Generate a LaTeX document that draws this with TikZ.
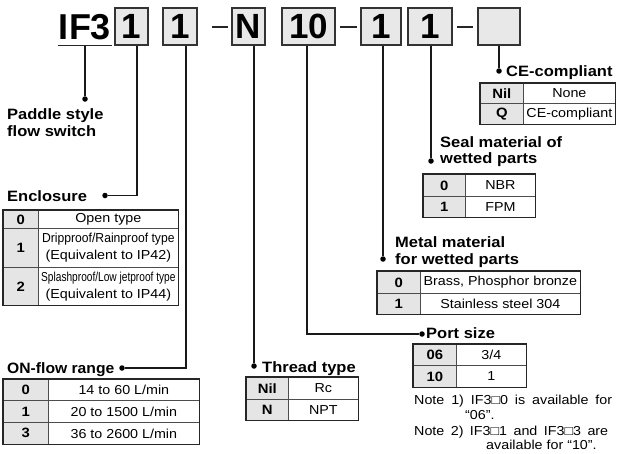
\documentclass[tikz,border=0pt]{standalone}
\usepackage{fontspec}
\usepackage{graphicx}
\setmainfont{Liberation Sans}[FakeStretch=1.1]
\newfontfamily\hdrfont{Liberation Sans}
\usetikzlibrary{calc}
\tikzset{
  hbox/.style={draw=black!80, line width=1.4pt, fill=black!9, minimum height=37pt, inner sep=0pt,
    font=\hdrfont\bfseries\fontsize{35}{35}\selectfont},
  lbl/.style={font=\bfseries\fontsize{15}{16.5}\selectfont, inner sep=0pt, align=left},
  conn/.style={line width=1.1pt, draw=black!90},
  dotc/.style={circle, fill=black, inner sep=0pt, minimum size=5.5pt},
  kcell/.style={draw=black!70, line width=0.7pt, fill=black!10, inner sep=0pt, anchor=north west,
    font=\bfseries\fontsize{13.5}{15}\selectfont},
  vcell/.style={draw=black!70, line width=0.7pt, inner sep=0pt, anchor=north west, align=center,
    font=\fontsize{13}{17}\selectfont},
  tabout/.style={draw=black!85, line width=1.1pt},
  notetxt/.style={inner sep=0pt, anchor=base west, font=\fontsize{13}{15}\selectfont},
  dashl/.style={line width=2.4pt, draw=black!85},
}
\begin{document}
\begin{tikzpicture}[x=1pt,y=-1pt]
\useasboundingbox (0,0) rectangle (617,453);

% ---------- header ----------
\node[inner sep=0pt, anchor=base, font=\hdrfont\bfseries\fontsize{36}{36}\selectfont] (if3) at (85,39) {IF3};
\draw[line width=1.4pt, draw=black!85] ([yshift=-6pt,xshift=-1pt]if3.south west) -- ([yshift=-6pt,xshift=1pt]if3.south east);
\node[hbox, minimum width=33pt] (b1) at (131.5,26.5) {1};
\node[hbox, minimum width=34pt] (b2) at (180,26.5) {1};
\node[hbox, minimum width=33pt] (bN) at (248.5,26.5) {N};
\node[hbox, minimum width=53pt] (b10) at (308.5,26.5) {10};
\node[hbox, minimum width=40pt] (b5) at (381,26.5) {1};
\node[hbox, minimum width=44pt] (b6) at (430,26.5) {1};
\node[hbox, minimum width=42pt] (b7) at (499,26.5) {};
\draw[dashl] (212,27) -- (228,27);
\draw[dashl] (340,27) -- (357,27);
\draw[dashl] (457,27) -- (473,27);

% ---------- labels and dots ----------
\node[lbl, anchor=base west] (lpad) at (7,136) {Paddle style\\flow switch};
\node[dotc] (d0) at (85,99) {};
\node[lbl, anchor=base west] (lenc) at (7,201.5) {Enclosure};
\node[dotc] (d1) at (105,195.5) {};
\node[lbl, anchor=base west] (lon) at (7,373.5) {\scalebox{0.95}[1]{ON-flow range}};
\node[dotc] (d2) at (122,368) {};
\node[lbl, anchor=base west] (lthr) at (262,372) {Thread type};
\node[dotc] (d3) at (254,366) {};
\node[lbl, anchor=base west] (lport) at (426,338.5) {Port size};
\node[dotc] (d4) at (422,334) {};
\node[lbl, anchor=base west] (lmet) at (395,264) {Metal material\\for wetted parts};
\node[dotc] (d5) at (383,259) {};
\node[lbl, anchor=base west] (lseal) at (440,163.5) {Seal material of\\wetted parts};
\node[dotc] (d6) at (431,161) {};
\node[lbl, anchor=base west] (lce) at (506,76.5) {CE-compliant};
\node[dotc] (d7) at (499,71) {};

% ---------- connectors ----------
\draw[conn] ([yshift=-6pt]if3.south) -- (d0);
\draw[conn] ([xshift=5.5pt]b1.south) |- (d1);
\draw[conn] ([xshift=6pt]b2.south) |- (d2);
\draw[conn] ([xshift=5.5pt]bN.south) -- (d3);
\draw[conn] ([xshift=-1.5pt]b10.south) |- (d4);
\draw[conn] ([xshift=2pt]b5.south) -- (d5);
\draw[conn] ([xshift=1pt]b6.south) -- (d6);
\draw[conn] (b7.south) -- (d7);

% ---------- Enclosure table ----------
\node[kcell, minimum width=35pt, minimum height=18pt] (e0k) at (3,210) {0};
\node[vcell, minimum width=140pt, minimum height=18pt] (e0v) at (38,210) {Open type};
\node[kcell, minimum width=35pt, minimum height=39pt] (e1k) at (3,228) {1};
\node[vcell, minimum width=140pt, minimum height=39pt] (e1v) at (38,228) {\scalebox{0.85}[1]{Dripproof/Rainproof type}\\(Equivalent to IP42)};
\node[kcell, minimum width=35pt, minimum height=38pt] (e2k) at (3,267) {2};
\node[vcell, minimum width=140pt, minimum height=38pt] (e2v) at (38,267) {\scalebox{0.71}[1]{Splashproof/Low jetproof type}\\(Equivalent to IP44)};
\draw[tabout] (e0k.north west) rectangle (e2v.south east);

% ---------- ON-flow range table ----------
\node[kcell, minimum width=45pt, minimum height=21pt] (o0k) at (3,379) {0};
\node[vcell, minimum width=151pt, minimum height=21pt] (o0v) at (48,379) {14 to 60 L/min};
\node[kcell, minimum width=45pt, minimum height=22pt] (o1k) at (3,400) {1};
\node[vcell, minimum width=151pt, minimum height=22pt] (o1v) at (48,400) {20 to 1500 L/min};
\node[kcell, minimum width=45pt, minimum height=22pt] (o2k) at (3,422) {3};
\node[vcell, minimum width=151pt, minimum height=22pt] (o2v) at (48,422) {36 to 2600 L/min};
\draw[tabout] (o0k.north west) rectangle (o2v.south east);

% ---------- Thread type table ----------
\node[kcell, minimum width=42pt, minimum height=22pt] (t0k) at (246,377) {Nil};
\node[vcell, minimum width=70pt, minimum height=22pt] (t0v) at (288,377) {Rc};
\node[kcell, minimum width=42pt, minimum height=21pt] (t1k) at (246,399) {N};
\node[vcell, minimum width=70pt, minimum height=21pt] (t1v) at (288,399) {NPT};
\draw[tabout] (t0k.north west) rectangle (t1v.south east);

% ---------- Port size table ----------
\node[kcell, minimum width=43pt, minimum height=21pt] (p0k) at (413,344) {06};
\node[vcell, minimum width=70pt, minimum height=21pt] (p0v) at (456,344) {3/4};
\node[kcell, minimum width=43pt, minimum height=22pt] (p1k) at (413,365) {10};
\node[vcell, minimum width=70pt, minimum height=22pt] (p1v) at (456,365) {1};
\draw[tabout] (p0k.north west) rectangle (p1v.south east);

\node[notetxt] (n1) at (414,404) {\makebox[198pt][s]{Note 1) IF3□0 is available for}};
\node[notetxt] (n1b) at (465,419) {“06”.};
\node[notetxt] (n2) at (414,435) {\makebox[194pt][s]{Note 2) IF3□1 and IF3□3 are}};
\node[notetxt] (n2b) at (486,449) {available for “10”.};

% ---------- Metal material table ----------
\node[kcell, minimum width=43pt, minimum height=22pt] (m0k) at (377,271) {0};
\node[vcell, minimum width=160pt, minimum height=22pt] (m0v) at (420,271) {Brass, Phosphor bronze};
\node[kcell, minimum width=43pt, minimum height=21pt] (m1k) at (377,293) {1};
\node[vcell, minimum width=160pt, minimum height=21pt] (m1v) at (420,293) {Stainless steel 304};
\draw[tabout] (m0k.north west) rectangle (m1v.south east);

% ---------- Seal material table ----------
\node[kcell, minimum width=42pt, minimum height=22pt] (s0k) at (423,174) {0};
\node[vcell, minimum width=70pt, minimum height=22pt] (s0v) at (465,174) {NBR};
\node[kcell, minimum width=42pt, minimum height=21pt] (s1k) at (423,196) {1};
\node[vcell, minimum width=70pt, minimum height=21pt] (s1v) at (465,196) {FPM};
\draw[tabout] (s0k.north west) rectangle (s1v.south east);

% ---------- CE table ----------
\node[kcell, minimum width=43pt, minimum height=20pt] (c0k) at (480,83) {Nil};
\node[vcell, minimum width=92pt, minimum height=20pt] (c0v) at (523,83) {None};
\node[kcell, minimum width=43pt, minimum height=21pt] (c1k) at (480,103) {Q};
\node[vcell, minimum width=92pt, minimum height=21pt] (c1v) at (523,103) {CE-compliant};
\draw[tabout] (c0k.north west) rectangle (c1v.south east);
\end{tikzpicture}
\end{document}
